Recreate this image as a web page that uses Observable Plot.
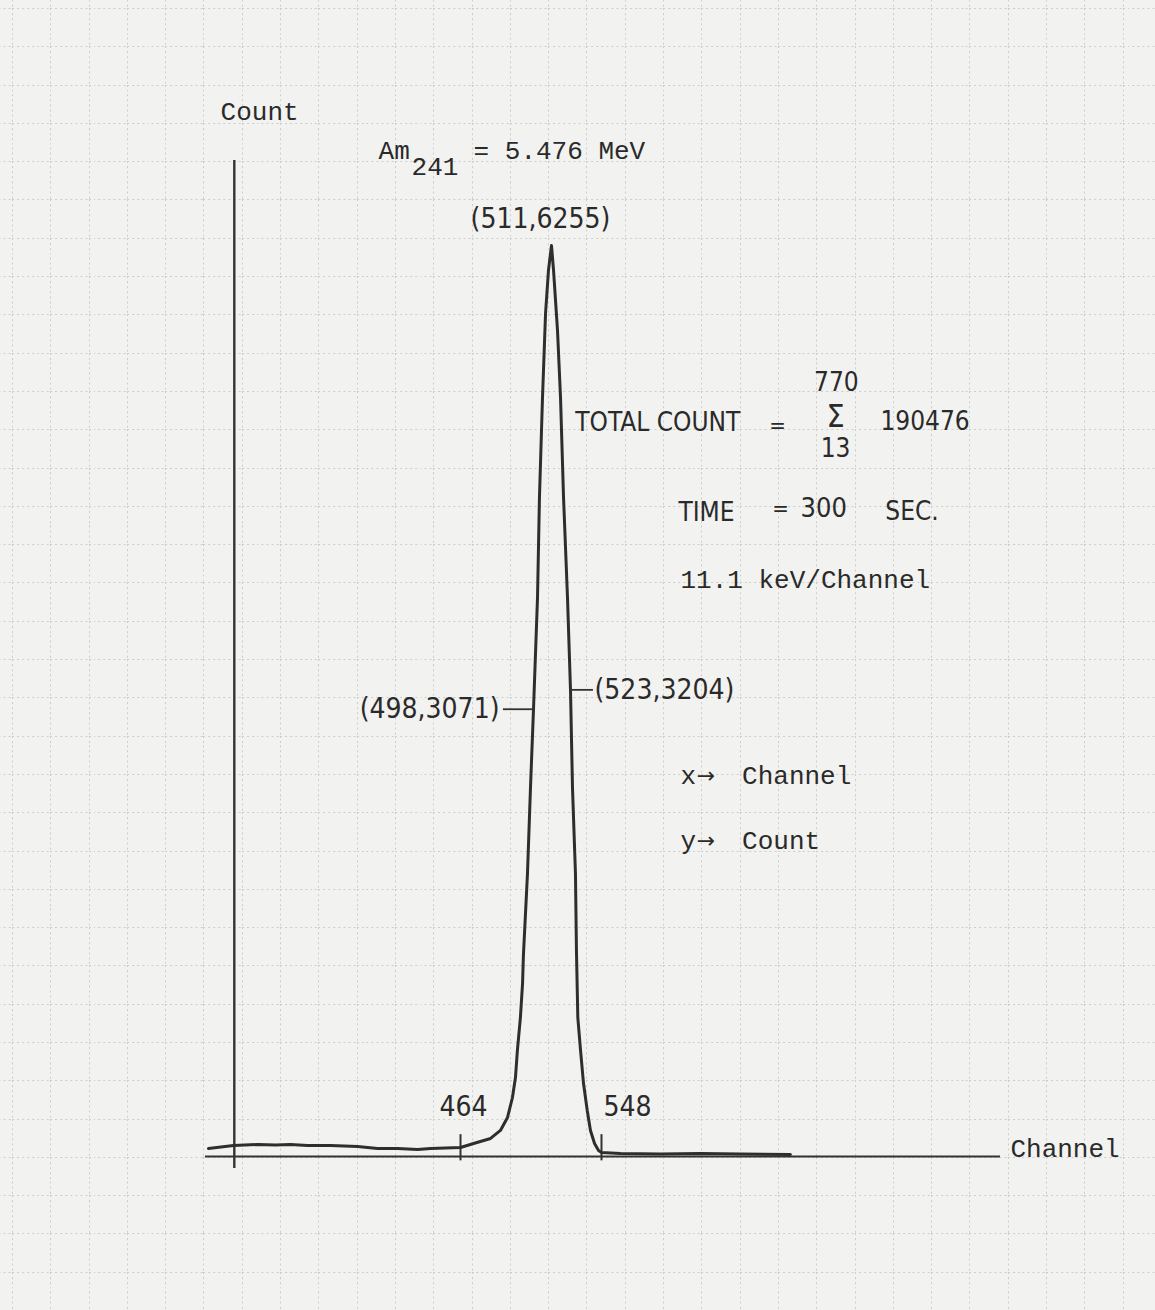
<!DOCTYPE html>
<html>
<head>
<meta charset="utf-8">
<script src="https://cdn.jsdelivr.net/npm/d3@7"></script>
<script src="https://cdn.jsdelivr.net/npm/@observablehq/plot@0.6"></script>
<style>
  html, body { margin: 0; padding: 0; }
  body { width: 1155px; height: 1310px; overflow: hidden; background-color: #f2f2f0; }
  #chart svg { display: block; }
</style>
</head>
<body>
<div id="chart"></div>
<script>
// ---- Data ----
const channels = [313.6, 328.5, 342.9, 353.6, 362.6, 372.7, 386.4, 402.6, 414.5, 426.4, 438.4, 446.1, 464,
  470.1, 478.0, 482.6, 485.9, 488.2, 489.6, 490.5, 491.9, 492.9, 493.3, 495.2, 496.6, 498,
  500.9, 502.3, 504.5, 506.7, 508.8, 511,
  512.3, 514.8, 516.7, 518.6, 521.1, 523,
  524.6, 527.0, 527.8, 528.9, 531.1, 533.5, 536.5, 539.1, 542.4, 545.6, 548,
  559.3, 583, 606.8, 630.5, 660.2];
const counts = [55, 76, 82, 79, 82, 76, 76, 69, 55, 55, 48, 55, 62,
  89, 124, 179, 268, 405, 542, 728, 954, 1188, 1380, 1943, 2534, 3071,
  3838, 4525, 5211, 5788, 6083, 6255,
  6083, 5671, 5211, 4525, 3838, 3204,
  2534, 1943, 1414, 954, 728, 501, 316, 179, 89, 41, 27,
  21, 17, 21, 17, 14];

const peak = [{channel: 511, count: 6255}];
const halfLeft = [{channel: 498, count: 3071}];
const halfRight = [{channel: 523, count: 3204}];
const markedChannels = [464, 548];

const energyMeV = 5.476;
const sumFrom = 13, sumTo = 770, totalCount = 190476;
const timeSec = 300;
const keVPerChannel = 11.1;

// ---- graph-paper background ----
const tile = 38.3;
const gridSvg = `<svg xmlns='http://www.w3.org/2000/svg' width='${tile}' height='${tile}'><path d='M0.5 0V${tile}M0 0.5H${tile}' stroke='#cdcdcd' stroke-width='1' stroke-dasharray='2 3' fill='none'/></svg>`;
document.body.style.backgroundImage = `url("data:image/svg+xml,${encodeURIComponent(gridSvg)}")`;
document.body.style.backgroundSize = `${tile}px ${tile}px`;
document.body.style.backgroundPosition = "12px 8px";

const mono = "'Liberation Mono', 'DejaVu Sans Mono', monospace";
const hand = "'DejaVu Sans Condensed', 'Liberation Sans Narrow', 'DejaVu Sans', sans-serif";
const arrowFont = "'DejaVu Sans', sans-serif";
const ink = "#2a2a2a";

function note(str, x, y, o = {}) {
  return Plot.text([str], {
    x, y, text: d => d,
    fontFamily: o.family || mono,
    fontSize: o.size || 26,
    textAnchor: o.anchor || "start",
    lineAnchor: "middle",
    fill: ink,
    dx: o.dx || 0, dy: o.dy || 0
  });
}

const chart = Plot.plot({
  width: 1155,
  height: 1310,
  margin: 0,
  x: {type: "linear", domain: [313, 464, 498, 511, 523, 548, 785], range: [207, 460, 533, 551, 570, 601, 1000], axis: null},
  y: {type: "linear", domain: [0, 6255], range: [1156, 245], axis: null},
  style: {background: "transparent", overflow: "visible"},
  marks: [
    // axes
    Plot.ruleY([0], {x1: 311.8, x2: 785, stroke: "#333", strokeWidth: 2}),
    Plot.ruleX([329], {y1: -82, y2: 6838, stroke: "#333", strokeWidth: 2.4}),
    Plot.ruleX(markedChannels, {y1: -30, y2: 150, stroke: "#333", strokeWidth: 2}),
    // spectrum
    Plot.line(counts, {x: channels, y: counts, stroke: "#2e2e2e", strokeWidth: 3, strokeLinejoin: "round"}),
    // channel labels
    Plot.text(markedChannels.filter(c => c === 464), {x: d => d, y: 0, text: d => String(d), dy: -49, dx: 3, fontFamily: hand, fontSize: 28, fill: ink}),
    Plot.text(markedChannels.filter(c => c === 548), {x: d => d, y: 0, text: d => String(d), dy: -49, dx: 2, textAnchor: "start", fontFamily: hand, fontSize: 28, fill: ink}),
    // peak + half maximum markers
    Plot.text(peak, {x: "channel", y: "count", text: d => `(${d.channel},${d.count})`, dx: -11, dy: -26, fontFamily: hand, fontSize: 28, fill: ink}),
    Plot.ruleY(halfLeft, {y: "count", x1: 484, x2: "channel", stroke: "#333", strokeWidth: 1.8}),
    Plot.text(halfLeft, {x: "channel", y: "count", text: d => `(${d.channel},${d.count})`, dx: -34, textAnchor: "end", fontFamily: hand, fontSize: 28, fill: ink}),
    Plot.ruleY(halfRight, {y: "count", x1: "channel", x2: 541.5, stroke: "#333", strokeWidth: 1.8}),
    Plot.text(halfRight, {x: "channel", y: "count", text: d => `(${d.channel},${d.count})`, dx: 24, textAnchor: "start", fontFamily: hand, fontSize: 28, fill: ink}),
    // annotations
    note("Count", 320.8, 7175),
    note("Am", 415.1, 6907),
    note("241", 434.8, 6797),
    note(`= ${energyMeV} MeV`, 470.1, 6907),
    note("TOTAL COUNT", 630.5, 5040, {family: hand, anchor: "end"}),
    note("=", 652.5, 5019, {family: hand, size: 22, anchor: "middle"}),
    note(String(sumTo), 687.5, 5315, {family: hand, anchor: "middle"}),
    note("Σ", 687, 5080, {family: hand, size: 32, anchor: "middle"}),
    note(String(sumFrom), 687, 4860, {family: hand, anchor: "middle"}),
    note(String(totalCount), 713.7, 5047, {family: hand}),
    note("TIME", 593.7, 4422, {family: hand}),
    note("=", 654.3, 4449, {family: hand, size: 22, anchor: "middle"}),
    note(String(timeSec), 666.2, 4449, {family: hand, size: 27}),
    note("SEC.", 716.6, 4429, {family: hand}),
    note(`${keVPerChannel} keV/Channel`, 594.9, 3962),
    note("x", 594.9, 2616),
    note("→", 610, 2616, {family: arrowFont, size: 22, anchor: "middle"}),
    note("Channel", 631.5, 2616),
    note("y", 594.9, 2170),
    note("→", 610, 2170, {family: arrowFont, size: 22, anchor: "middle"}),
    note("Count", 631.5, 2170),
    note("Channel", 790.9, 55)
  ]
});
document.getElementById("chart").appendChild(chart);
</script>
</body>
</html>
